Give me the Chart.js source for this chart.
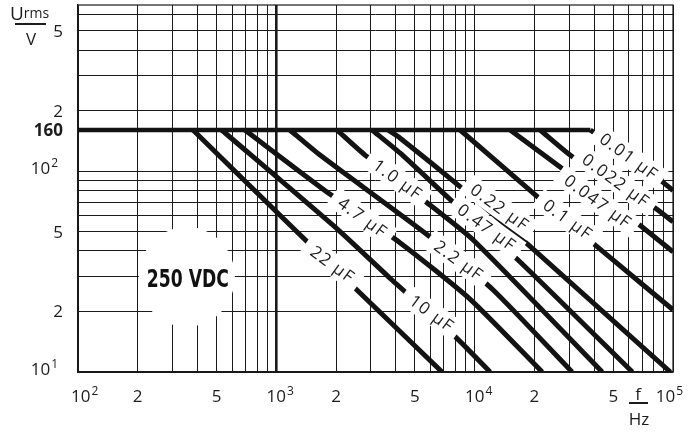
<!DOCTYPE html>
<html>
<head>
<meta charset="utf-8">
<script src="https://cdn.jsdelivr.net/npm/chart.js@4.4.1/dist/chart.umd.min.js"></script>
<style>
    html, body { margin: 0; padding: 0; background: #fff; }
    #chart { display: block; }
</style>
</head>
<body>
<canvas id="chart" width="699" height="433"></canvas>
<script>
// ========================================
// DATA
// ========================================

const ratedVoltage = 160;   // Urms plateau, V
const freqStart = 100;      // Hz, left end of plateau

const capLabels = ['22 µF', '10 µF', '4.7 µF', '2.2 µF', '1.0 µF', '0.47 µF',
    '0.22 µF', '0.1 µF', '0.047 µF', '0.022 µF', '0.01 µF'];

// [f in Hz, Urms in V], each curve starts at its knee on the 160 V line
const curve22uF = [[380, 160], [1240, 51], [2550, 25.6], [6850, 10]];
const curve10uF = [[530, 160], [2050, 51], [3830, 28.7], [7970, 15], [11970, 10]];
const curve4u7F = [[694, 160], [1820, 78], [4200, 44], [9500, 23], [21900, 10]];
const curve2u2F = [[1170, 160], [1660, 120], [5960, 47], [12400, 25.6], [31000, 10]];
const curve1u0F = [[2020, 160], [2800, 120], [5500, 72], [9830, 45.4], [44000, 10]];
const curve470nF = [[3040, 160], [4200, 123], [7790, 70], [16600, 36], [62400, 10]];
const curve220nF = [[3660, 160], [4200, 146], [8650, 82], [18600, 43], [97000, 10]];
const curve100nF = [[8450, 160], [20900, 74], [50000, 36], [100000, 20.4]];
const curve47nF = [[15100, 160], [27600, 103], [66100, 55], [100000, 39.6]];
const curve22nF = [[21400, 160], [31400, 117], [76900, 68], [100000, 56]];
const curve10nF = [[38300, 160], [86400, 90], [100000, 80]];

const curves = [curve22uF, curve10uF, curve4u7F, curve2u2F, curve1u0F, curve470nF,
    curve220nF, curve100nF, curve47nF, curve22nF, curve10nF];

// where each curve label sits (f, U)
const labelFreq = [1909, 6031, 2705, 8256, 4062, 11430, 13290, 29310, 41540, 51190, 59560];
const labelVolt = [34.5, 19.7, 59.1, 36.1, 91.3, 52.7, 66.3, 57.7, 70.9, 90.2, 118.7];

const vdcText = '250 VDC';
const vdcAt = [358, 29.4];

// axis ticks
const xTickValues = [1e2, 2e2, 5e2, 1e3, 2e3, 5e3, 1e4, 2e4, 5e4, 1e5];
const xTickLabels = ['10^2', '2', '5', '10^3', '2', '5', '10^4', '2', '5', '10^5'];
const yTickValues = [10, 20, 50, 100, 160, 200, 500];
const yTickLabels = ['10^1', '2', '5', '10^2', '160', '2', '5'];

const xMin = 100, xMax = 100000;
const yMin = 10, yMax = 670;

// ========================================
// STYLE
// ========================================

const inkColor = '#131313';
const gridColor = '#1a1a1a';
const textColor = '#1c1c1c';
const tickFont = '17px "Open Sans", "Noto Sans", sans-serif';
const supFont = '12px "Open Sans", "Noto Sans", sans-serif';
const labelFont = '17px "Open Sans", "Noto Sans", sans-serif';
const labelAngle = 36 * Math.PI / 180;

// log grid: 1..9 per decade
function decadeGrid(fromExp, toExp, last) {
    const out = [];
    for (let e = fromExp; e <= toExp; e++) {
        for (let m = 1; m <= 9; m++) out.push(m * Math.pow(10, e));
    }
    out.push(last);
    return out;
}
const xGrid = decadeGrid(2, 4, 1e5);
const yGrid = decadeGrid(1, 1, 100).concat([200, 300, 400, 500, 600]);

// ========================================
// DATASETS
// ========================================

const lineStyle = {
    borderColor: inkColor,
    borderWidth: 5,
    pointRadius: 0,
    fill: false,
    tension: 0.2,
    clip: 0,
    borderCapStyle: 'butt',
    borderJoinStyle: 'round'
};

const datasets = [{
    ...lineStyle,
    borderWidth: 4.6,
    tension: 0,
    data: [{ x: freqStart, y: ratedVoltage }, { x: curve10nF[0][0], y: ratedVoltage }]
}];
curves.forEach((c, i) => {
    datasets.push({
        ...lineStyle,
        label: capLabels[i],
        data: c.map(p => ({ x: p[0], y: p[1] }))
    });
});

// ========================================
// DECORATION PLUGIN
// ========================================

function drawPower(ctx, label, left, baseline, bold) {
    const parts = label.split('^');
    ctx.font = (bold ? 'bold ' : '') + tickFont;
    ctx.textAlign = 'left';
    ctx.fillText(parts[0], left, baseline);
    if (parts[1]) {
        const wb = ctx.measureText(parts[0]).width;
        ctx.font = supFont;
        ctx.fillText(parts[1], left + wb + 1, baseline - 7);
    }
}

function powerWidth(ctx, label, bold) {
    const parts = label.split('^');
    ctx.font = (bold ? 'bold ' : '') + tickFont;
    const wb = ctx.measureText(parts[0]).width;
    let ws = 0;
    if (parts[1]) {
        ctx.font = supFont;
        ws = ctx.measureText(parts[1]).width + 1;
    }
    return { wb, ws };
}

const chartDecor = {
    id: 'chartDecor',
    beforeDatasetsDraw(chart) {
        const { ctx, chartArea: a } = chart;
        ctx.save();
        ctx.strokeStyle = gridColor;
        ctx.lineWidth = 1.2;
        ctx.strokeRect(a.left, a.top, a.right - a.left, a.bottom - a.top);
        ctx.restore();
    },
    afterDatasetsDraw(chart) {
        const { ctx } = chart;
        const xs = chart.scales.x, ys = chart.scales.y;

        ctx.save();
        // white patch behind 250 VDC
        const vx = xs.getPixelForValue(vdcAt[0]);
        const vy = ys.getPixelForValue(vdcAt[1]);
        ctx.fillStyle = '#fff';
        ctx.beginPath();
        ctx.ellipse(vx - 1, vy - 1, 48, 50, 0, 0, Math.PI * 2);
        ctx.fill();

        // white boxes behind curve labels
        ctx.font = labelFont;
        ctx.letterSpacing = '1.5px';
        const pos = capLabels.map((t, i) => ({
            t,
            x: xs.getPixelForValue(labelFreq[i]),
            y: ys.getPixelForValue(labelVolt[i]),
            w: ctx.measureText(t).width
        }));
        pos.forEach(p => {
            ctx.save();
            ctx.translate(p.x, p.y);
            ctx.rotate(labelAngle);
            ctx.fillStyle = '#fff';
            ctx.fillRect(-p.w / 2 - 8, -11, p.w + 16, 22);
            ctx.restore();
        });
        pos.forEach(p => {
            ctx.save();
            ctx.translate(p.x, p.y);
            ctx.rotate(labelAngle);
            ctx.fillStyle = textColor;
            ctx.textAlign = 'center';
            ctx.textBaseline = 'middle';
            ctx.fillText(p.t, 1, 1);
            ctx.restore();
        });
        ctx.letterSpacing = '0px';

        // 250 VDC
        ctx.font = 'bold 25px "Liberation Sans Narrow", "DejaVu Sans Condensed", "Liberation Sans", sans-serif';
        const tw = ctx.measureText(vdcText).width;
        ctx.save();
        ctx.translate(vx, vy + 9);
        ctx.scale(82 / tw, 1);
        ctx.fillStyle = '#111';
        ctx.textAlign = 'center';
        ctx.fillText(vdcText, 0, 0);
        ctx.restore();
        ctx.restore();
    },
    afterDraw(chart) {
        const { ctx, chartArea: a } = chart;
        const xs = chart.scales.x, ys = chart.scales.y;
        ctx.save();
        ctx.fillStyle = textColor;
        ctx.textBaseline = 'alphabetic';

        // x tick labels
        const xBase = a.bottom + 30;
        xTickValues.forEach((v, i) => {
            const px = xs.getPixelForValue(v);
            const { wb, ws } = powerWidth(ctx, xTickLabels[i], false);
            let left = px - wb / 2;
            if (i === 0) left = px - 7;
            if (i === xTickValues.length - 1) left = px + 10 - wb - ws;
            drawPower(ctx, xTickLabels[i], left, xBase, false);
        });

        // y tick labels
        yTickValues.forEach((v, i) => {
            const py = ys.getPixelForValue(v);
            const bold = v === ratedVoltage;
            const isPow = yTickLabels[i].indexOf('^') >= 0;
            const { wb, ws } = powerWidth(ctx, yTickLabels[i], bold);
            const right = a.left - (isPow ? 20 : 15);
            drawPower(ctx, yTickLabels[i], right - wb - ws, py + (isPow ? 3 : 6), bold);
        });

        // Urms / V
        ctx.textAlign = 'left';
        ctx.font = '19px "Open Sans", "Noto Sans", sans-serif';
        ctx.fillText('U', 10, 20);
        const uw = ctx.measureText('U').width;
        ctx.font = '14px "Open Sans", "Noto Sans", sans-serif';
        ctx.fillText('rms', 10 + uw, 18);
        ctx.fillRect(15, 23, 31, 2);
        ctx.font = '17px "Open Sans", "Noto Sans", sans-serif';
        ctx.textAlign = 'center';
        ctx.fillText('V', 31, 45);

        // f / Hz
        ctx.fillText('f', 638, 400);
        ctx.fillRect(629, 402, 19, 2);
        ctx.fillText('Hz', 639, 425);
        ctx.restore();
    }
};

// ========================================
// CHART
// ========================================

const ctx = document.getElementById('chart').getContext('2d');
new Chart(ctx, {
    type: 'line',
    data: { datasets },
    options: {
        responsive: false,
        animation: false,
        events: [],
        layout: { padding: { left: 78, right: 26, top: 5, bottom: 61 } },
        plugins: {
            legend: { display: false },
            tooltip: { enabled: false }
        },
        scales: {
            x: {
                type: 'logarithmic',
                min: xMin,
                max: xMax,
                ticks: { display: false },
                afterBuildTicks: scale => { scale.ticks = xGrid.map(v => ({ value: v })); },
                grid: {
                    color: gridColor,
                    drawTicks: false,
                    lineWidth: c => (c.tick && c.tick.value === 1000 ? 2.6 : 1)
                },
                border: { color: gridColor, width: 1.2 }
            },
            y: {
                type: 'logarithmic',
                min: yMin,
                max: yMax,
                ticks: { display: false },
                afterBuildTicks: scale => { scale.ticks = yGrid.map(v => ({ value: v })); },
                grid: { color: gridColor, drawTicks: false, lineWidth: 1 },
                border: { color: gridColor, width: 1.2 }
            }
        }
    },
    plugins: [chartDecor]
});
</script>
</body>
</html>
